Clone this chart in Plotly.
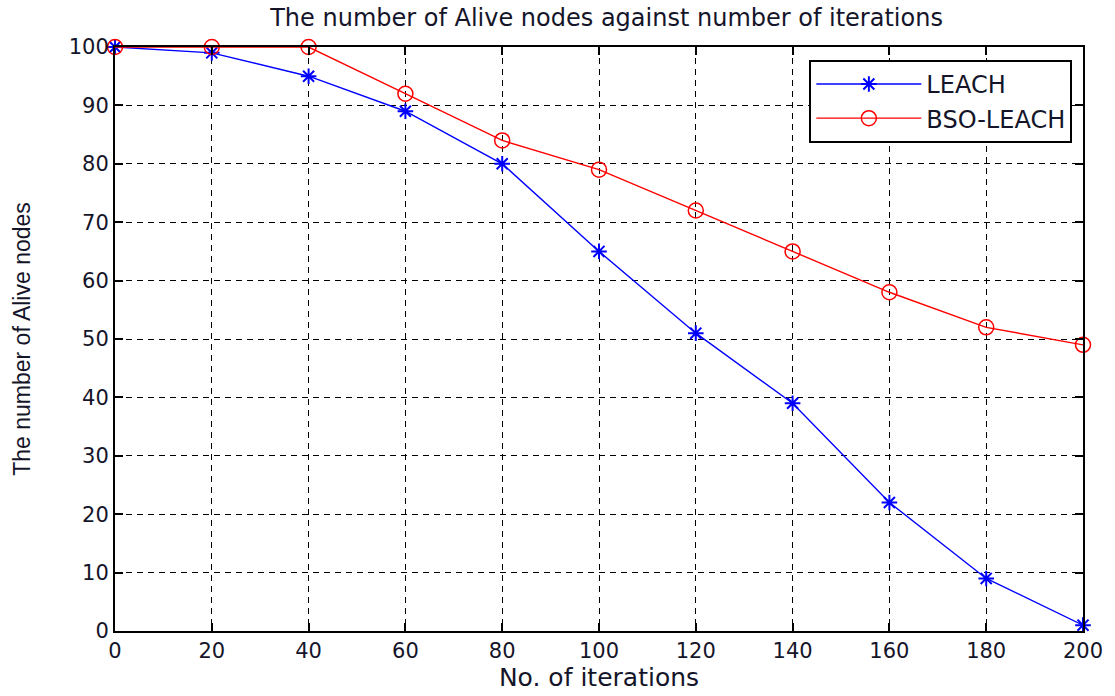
import plotly.graph_objects as go

iterations = [0, 20, 40, 60, 80, 100, 120, 140, 160, 180, 200]
leach = [100, 99, 95, 89, 80, 65, 51, 39, 22, 9, 1]
bso_leach = [100, 100, 100, 92, 84, 79, 72, 65, 58, 52, 49]
x_ticks = [0, 20, 40, 60, 80, 100, 120, 140, 160, 180, 200]
y_ticks = [0, 10, 20, 30, 40, 50, 60, 70, 80, 90, 100]

WIDE = "DejaVu Sans, Verdana, sans-serif"
ARIAL = "Arial, Liberation Sans, sans-serif"
TXT = "#15152a"

fig = go.Figure()
fig.add_trace(go.Scatter(
    x=iterations, y=leach, mode="lines+markers", name="LEACH",
    line=dict(color="#0000ff", width=1.4), cliponaxis=False,
    marker=dict(symbol="asterisk-open", size=13, color="#0000ff",
                line=dict(color="#0000ff", width=2)),
))
fig.add_trace(go.Scatter(
    x=iterations, y=bso_leach, mode="lines+markers", name="BSO-LEACH",
    line=dict(color="#ff0000", width=1.4), cliponaxis=False,
    marker=dict(symbol="circle-open", size=15, color="#ff0000",
                line=dict(color="#ff0000", width=1.5)),
))

axis_common = dict(
    showline=True, linecolor="black", linewidth=2, mirror="ticks",
    ticks="inside", ticklen=8, tickcolor="black", tickwidth=2,
    showgrid=True, gridcolor="black", gridwidth=1, griddash="6px,5px",
    zeroline=False, tickfont=dict(family=WIDE, size=21, color=TXT),
)

fig.update_layout(
    width=1115, height=696,
    margin=dict(l=115, r=28, t=47, b=60),
    paper_bgcolor="white", plot_bgcolor="white",
    title=dict(text="The number of Alive nodes against number of iterations",
               x=0.544, xanchor="center", y=0.975, yanchor="middle",
               font=dict(family=WIDE, size=24, color=TXT)),
    xaxis=dict(range=[0, 200], tickvals=x_ticks,
               title=dict(text="No. of iterations", standoff=3,
                          font=dict(family=WIDE, size=25, color=TXT)),
               **axis_common),
    yaxis=dict(range=[0, 100], tickvals=y_ticks,
               title=dict(text="The number of Alive nodes", standoff=32,
                          font=dict(family=ARIAL, size=23, color=TXT)),
               **axis_common),
    legend=dict(x=0.989, xanchor="right", y=0.978, yanchor="top",
                bgcolor="white", bordercolor="black", borderwidth=2,
                font=dict(family=WIDE, size=24, color=TXT),
                tracegroupgap=0, itemwidth=105),
    showlegend=True,
)

fig.write_html("out.html")
